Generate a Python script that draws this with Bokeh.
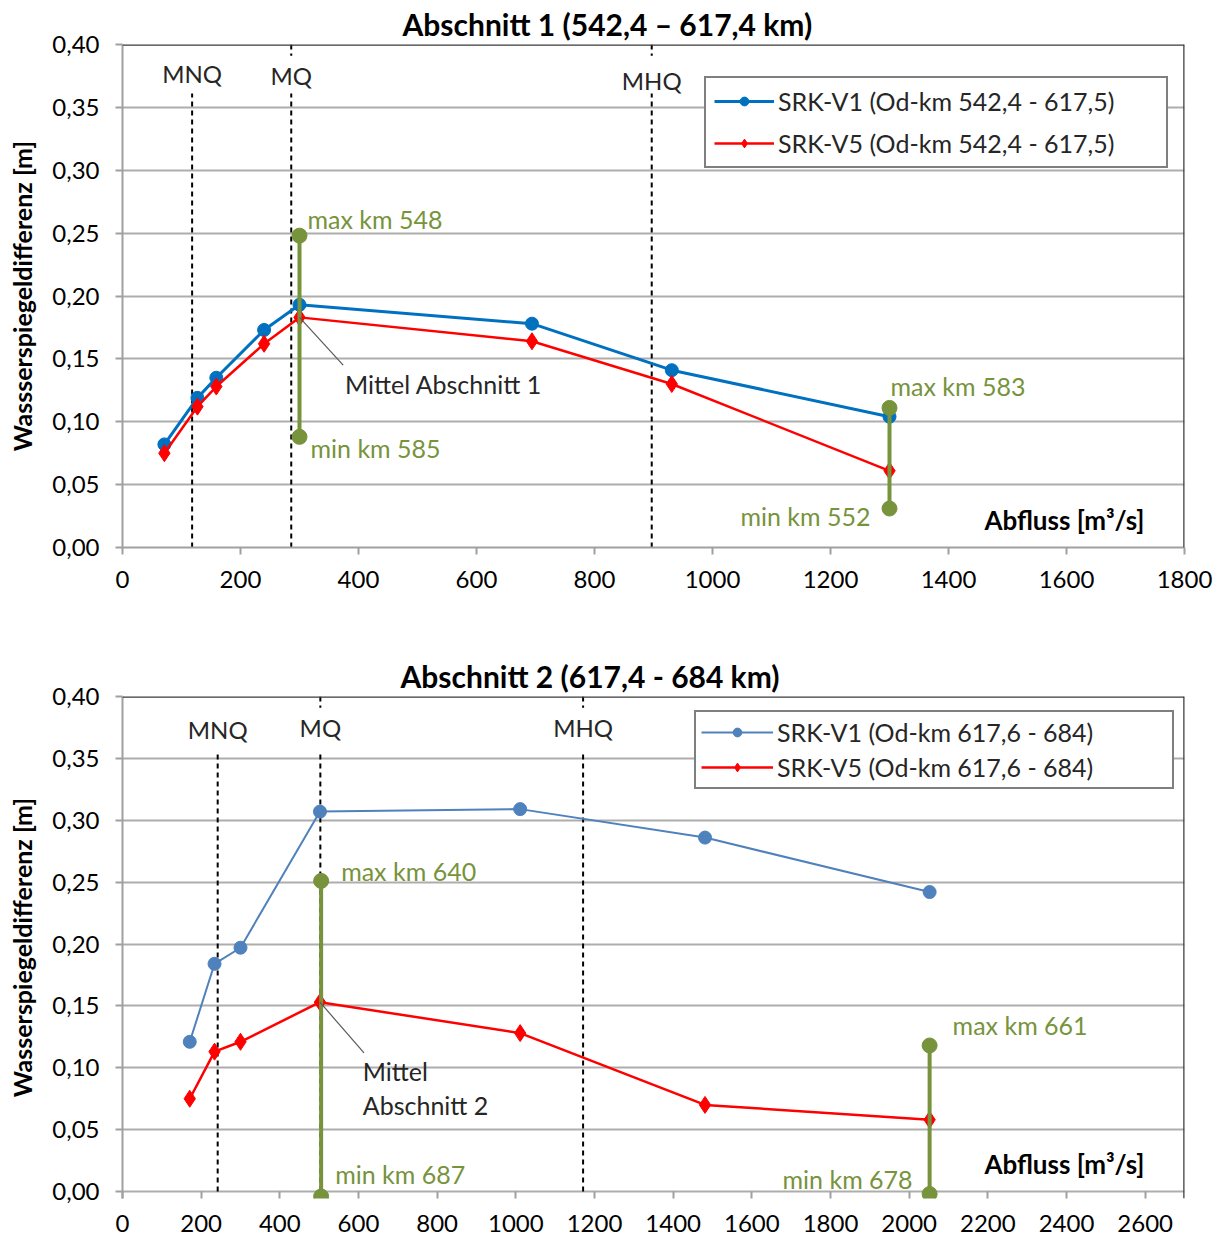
from bokeh.plotting import figure
from bokeh.models import Range1d, FixedTicker, Legend, LegendItem, Span, Title
from bokeh.layouts import column
from bokeh.core.properties import value
from bokeh.embed import file_html
from bokeh.resources import INLINE

FONT = "Lato"
BLUE1 = "#0070C0"
BLUE2 = "#4F81BD"
RED = "#FF0000"
GREEN = "#77933C"
GRID = "#ADADAD"
AXIS = "#A0A0A0"
DARK = "#3A3A3A"
TXT = "#262626"

# ---------------- data: Abschnitt 1 ----------------
title1 = "Abschnitt 1 (542,4 – 617,4 km)"
ylabel1 = "Wassserspiegeldifferenz [m]"
q1 = [71, 127, 159, 240, 300, 694, 931, 1300]
srk_v1_1 = [0.082, 0.119, 0.135, 0.173, 0.193, 0.178, 0.141, 0.104]
srk_v5_1 = [0.075, 0.112, 0.128, 0.162, 0.183, 0.164, 0.130, 0.061]
leg1 = ["SRK-V1 (Od-km 542,4 - 617,5)", "SRK-V5 (Od-km 542,4 - 617,5)"]
rng1_q = [300, 1300]
rng1_max = [0.248, 0.111]
rng1_min = [0.088, 0.031]
rng1_max_lbl = ["max km 548", "max km 583"]
rng1_min_lbl = ["min km 585", "min km 552"]
marks1_q = [118, 286, 897]
marks_lbl = ["MNQ", "MQ", "MHQ"]
mittel1 = ["Mittel Abschnitt 1"]
x_ticks1 = [0, 200, 400, 600, 800, 1000, 1200, 1400, 1600, 1800]

# ---------------- data: Abschnitt 2 ----------------
title2 = "Abschnitt 2 (617,4 - 684 km)"
ylabel2 = "Wasserspiegeldifferenz [m]"
q2 = [171, 234, 300, 502, 1011, 1481, 2052]
srk_v1_2 = [0.121, 0.184, 0.197, 0.307, 0.309, 0.286, 0.242]
srk_v5_2 = [0.075, 0.113, 0.121, 0.153, 0.128, 0.070, 0.058]
leg2 = ["SRK-V1 (Od-km 617,6 - 684)", "SRK-V5 (Od-km 617,6 - 684)"]
rng2_q = [505, 2052]
rng2_max = [0.251, 0.118]
rng2_min = [-0.004, -0.002]
rng2_max_lbl = ["max km 640", "max km 661"]
rng2_min_lbl = ["min km 687", "min km 678"]
marks2_q = [242, 503, 1171]
mittel2 = ["Mittel", "Abschnitt 2"]
x_ticks2 = [0, 200, 400, 600, 800, 1000, 1200, 1400, 1600, 1800, 2000, 2200, 2400, 2600]

y_ticks = [0.0, 0.05, 0.10, 0.15, 0.20, 0.25, 0.30, 0.35, 0.40]
y_tick_labels = ["0,00", "0,05", "0,10", "0,15", "0,20", "0,25", "0,30", "0,35", "0,40"]
xlabel = "Abfluss [m³/s]"


def make_fig(height, xmax, ymin, bl, br, bt, bb, title, title_offset, ylabel, xticks, xstandoff):
    p = figure(width=1222, height=height, x_range=Range1d(0, xmax), y_range=Range1d(ymin, 0.4),
               output_backend="svg", toolbar_location=None,
               min_border_left=bl, min_border_right=br, min_border_top=bt, min_border_bottom=bb)
    p.title = Title(text=title, align="left", offset=title_offset, text_font=FONT,
                    text_font_size="30px", text_font_style="bold", text_color="#000000", standoff=5)
    p.outline_line_color = None
    p.background_fill_color = "white"
    p.border_fill_color = "white"
    p.xgrid.visible = False
    p.ygrid.ticker = FixedTicker(ticks=y_ticks)
    p.ygrid.grid_line_color = GRID
    p.ygrid.grid_line_width = 2
    p.yaxis.ticker = FixedTicker(ticks=y_ticks)
    p.yaxis.major_label_overrides = {t: l for t, l in zip(y_ticks, y_tick_labels)}
    p.xaxis.ticker = FixedTicker(ticks=xticks)
    p.xaxis.major_label_overrides = {t: str(t) for t in xticks}
    for ax in (p.xaxis[0], p.yaxis[0]):
        ax.axis_line_color = AXIS
        ax.axis_line_width = 2
        ax.major_tick_line_color = AXIS
        ax.major_tick_line_width = 2
        ax.major_tick_out = 7
        ax.major_tick_in = 0
        ax.minor_tick_line_color = None
        ax.major_label_text_font = FONT
        ax.major_label_text_font_size = "24px"
        ax.major_label_text_color = "#000000"
    p.yaxis.major_label_standoff = 16
    p.xaxis.major_label_standoff = xstandoff
    p.yaxis.axis_label = ylabel
    p.yaxis.axis_label_text_font = FONT
    p.yaxis.axis_label_text_font_size = "25px"
    p.yaxis.axis_label_text_font_style = "bold"
    p.yaxis.axis_label_text_color = "#000000"
    p.yaxis.axis_label_standoff = 12
    p.add_layout(Span(location=0.4, dimension="width", line_color=DARK, line_width=2.5))
    p.add_layout(Span(location=xmax, dimension="height", line_color=DARK, line_width=2.5))
    return p


def txt(p, x, y, s, color, align, xo=0, yo=0, size="25px", style="normal"):
    p.text(x=[x], y=[y], text=[s], x_offset=xo, y_offset=yo, text_font=value(FONT),
           text_font_size=value(size), text_font_style=value(style), text_color=color,
           text_align=align, text_baseline="middle")


def draw(p, q, v1, v5, blue, blue_w, bsize, legs, rq, rmax, rmin, max_lbl, min_lbl, max_off, min_off,
         marks, marks_top, mark_lbl_y, leg_loc, leg_pad, leg_gw, leg_sp, leg_lw,
         lead_end, mtxt, mtxt_pos, i_mq):
    # reference discharge lines
    p.segment(x0=marks, y0=[0] * len(marks), x1=marks, y1=[marks_top] * len(marks),
              line_color="#000000", line_width=2, line_dash="5 4")
    p.segment(x0=marks[1:], y0=[0.4] * (len(marks) - 1), x1=marks[1:], y1=[0.391] * (len(marks) - 1),
              line_color="#000000", line_width=2, line_dash="5 4")
    for m, lab, yy in zip(marks, marks_lbl, mark_lbl_y):
        txt(p, m, yy, lab, TXT, "center", size="24px")
    # series
    l1 = p.line(q, v1, line_color=blue, line_width=blue_w)
    s1 = p.scatter(q, v1, marker="circle", size=bsize, fill_color=blue, line_color=blue)
    l5 = p.line(q, v5, line_color=RED, line_width=2.5)
    s5 = p.scatter(q, v5, marker="diamond", size=17, fill_color=RED, line_color=RED)
    # min / max ranges
    p.segment(x0=rq, y0=rmin, x1=rq, y1=rmax, line_color=GREEN, line_width=4)
    p.scatter(rq + rq, rmax + rmin, marker="circle", size=15, fill_color=GREEN, line_color=GREEN)
    for i in range(len(rq)):
        txt(p, rq[i], rmax[i], max_lbl[i], GREEN, "left", max_off[i][0], max_off[i][1])
        txt(p, rq[i], rmin[i], min_lbl[i], GREEN, "left" if i == 0 else "right",
            min_off[i][0], min_off[i][1])
    # Mittel annotation
    p.segment(x0=[q[i_mq]], y0=[v5[i_mq]], x1=[lead_end[0]], y1=[lead_end[1]],
              line_color="#595959", line_width=1.2)
    for s, yy in zip(mtxt, mtxt_pos[1]):
        txt(p, mtxt_pos[0], yy, s, TXT, "left")
    # axis title inside plot
    txt(p, p.x_range.end, 0.0, xlabel, "#000000", "right", -40, -28, size="26px", style="bold")
    legend = Legend(items=[LegendItem(label=legs[0], renderers=[l1, s1]),
                           LegendItem(label=legs[1], renderers=[l5, s5])],
                    location=leg_loc, padding=leg_pad, spacing=leg_sp, glyph_width=leg_gw,
                    glyph_height=22, label_height=22, label_width=leg_lw, label_standoff=4, margin=0,
                    border_line_color="#000000", border_line_width=2, background_fill_alpha=1,
                    label_text_font=FONT, label_text_font_size="25px", label_text_color=TXT)
    p.add_layout(legend)


p1 = make_fig(652, 1800, 0.0, 120, 38, 44, 105, title1, 280, ylabel1, x_ticks1, 16)
draw(p1, q1, srk_v1_1, srk_v5_1, BLUE1, 3, 13, leg1, rng1_q, rng1_max, rng1_min, rng1_max_lbl,
     rng1_min_lbl, [(8, -17), (1, -22)], [(11, 11), (-19, 7)],
     marks1_q, 0.361, [0.377, 0.375, 0.371], (582, 379), 8, 60, 12, 380,
     (374, 0.145), mittel1, (377, [0.130]), 4)

p2 = make_fig(589, 2700, -0.00563, 122, 31, 44, 43, title2, 278, ylabel2, x_ticks2, 16)
p2.xaxis.axis_line_color = None
p2.xaxis.major_tick_in = 7
p2.xaxis.major_tick_out = 0
draw(p2, q2, srk_v1_2, srk_v5_2, BLUE2, 2, 13, leg2, rng2_q, rng2_max, rng2_min, rng2_max_lbl,
     rng2_min_lbl, [(20, -10), (23, -20)], [(14, -22), (-17, -15)],
     marks2_q, 0.355, [0.373, 0.375, 0.375], (572, 409), 5, 72, 5, 390,
     (614, 0.112), mittel2, (611, [0.097, 0.070]), 3)

layout = column(p1, p2, spacing=0)
open("out.html", "w").write(file_html(layout, INLINE))
